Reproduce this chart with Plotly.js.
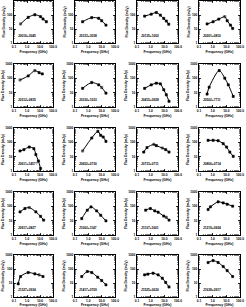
<!DOCTYPE html>
<html><head><meta charset="utf-8">
<script src="https://cdn.plot.ly/plotly-3.0.1.min.js"></script>
<style>html,body{margin:0;padding:0;background:#fff}#c{width:246px;height:307px}</style>
</head><body><div id="c"></div>
<script>
// Source names (one per panel, row by row)
const names = ["J0010+3045","J0123+3038","J0135+1002","J0201+0810",
               "J0312+0835","J0330+1033","J0415+0928","J0502+7711",
               "J0611+1457?","J0652+0730","J0733+0711","J0800+0714",
               "J0917+0827","J1002+1147","J1107+1601","J1219+0924",
               "J1327+0934","J1417+0709","J1525+0630","J1638+0917"];
// Frequencies (GHz) per panel
const freq = [
 [0.32,1.24,4.0,11,17,31],
 [0.37,1.8,6,10,21],
 [0.36,1.1,2.6,5.1,9,14,21],
 [0.39,1.07,2.8,7.7,11.5,20,29],
 [0.29,1.24,4,8.5,15],
 [0.37,1.8,6,10,21],
 [0.36,1.1,2.6,5.1,9,14,22],
 [0.39,0.55,3,7.7,14,32],
 [0.29,0.58,1.5,3.4,4.8,7.6,11],
 [0.37,1.8,5.2,8.4,13,21],
 [0.31,0.54,1.7,2.6,7.1,12.5,22],
 [0.46,1.07,2.5,5.9,10.3,18,32],
 [0.29,0.69,1.5,4.8,11,19],
 [0.32,0.84,1.6,4.2,8.4,21],
 [0.43,0.95,2,3.5,9,14,22],
 [0.46,0.69,2.5,5.9,11.5,29],
 [0.21,0.32,1.24,4,8.5,17],
 [0.32,0.84,1.8,5,10,21],
 [0.36,0.62,1.5,3.5,7.1,12.5,22],
 [0.46,1.07,2.5,5.9,11.5,29]
];
// Flux densities (mJy) per panel
const flux = [
 [23,68,104,76,52,33],
 [33,65,58,39,19],
 [83,115,150,98,57,37,22],
 [23,33,51,76,39,19,11],
 [77,147,346,250,204],
 [20,51,35,23,9.3],
 [20,35,46,41,16,7.1,2.5],
 [8,24,350,103,35,5.5],
 [25,31,47,36,14,5,1.5],
 [25,200,580,310,235,117],
 [21,43,72,59,40,31,21],
 [138,138,130,81,47,21,10.5],
 [41,70,82,41,20,11],
 [14,54,91,48,24,9.7],
 [54,70,48,39,21,17,11],
 [60,92,205,173,141,103],
 [8.7,29,56,45,38,29],
 [29,66,56,26,15,7.4],
 [38,43,50,38,22,11,5.2],
 [290,400,290,150,77,29]
];
// Open-square points (index) per panel
const openPts = [[0],[],[],[3],[0,2],[3],[],[],[],[0],[2,4],[],[2],[],[5],[],[4],[],[],[]];
const xTickVals = [0.1,1,10,100];
const xTickText = ["0.1","1.0","10.0","100.0"];
const yTickVals = [1,10,100,1000];
const yTickText = ["1","10","100","1000"];

const colsPx = [[14,53],[75,115],[137,178],[199,240]];
const rowsPx = [[1,43],[64,107],[128,171],[192,235],[255,297]];
const W=246,H=307;
const traces=[], annotations=[];
const layout = {width:W,height:H,margin:{l:0,r:0,t:0,b:0},showlegend:false,
  paper_bgcolor:'#fff',plot_bgcolor:'#fff',
  font:{family:'Liberation Sans, Arial, sans-serif',size:3,color:'#000'},annotations};
const fnt = {family:'Liberation Sans, Arial, sans-serif',size:3.2,color:'#000',weight:'bold'};
for(let i=0;i<20;i++){
  const r=Math.floor(i/4), c=i%4;
  const n = i===0?'':String(i+1);
  const xa='xaxis'+n, ya='yaxis'+n;
  const common = {type:'log',showgrid:false,zeroline:false,showline:true,linecolor:'#000',linewidth:1,
    mirror:'allticks',ticks:'inside',ticklen:2,tickwidth:0.8,tickcolor:'#000',tickfont:fnt,
    minor:{ticks:'inside',ticklen:1,tickwidth:0.5,tickcolor:'#000',dtick:'D1'},fixedrange:true};
  layout[xa] = Object.assign({},common,{domain:[colsPx[c][0]/W,colsPx[c][1]/W],range:[-1,2],
    tickvals:xTickVals,ticktext:xTickText,anchor:'y'+n,
    title:{text:'Frequency (GHz)',font:Object.assign({},fnt,{size:3.5}),standoff:2}});
  layout[ya] = Object.assign({},common,{domain:[1-rowsPx[r][1]/H,1-rowsPx[r][0]/H],range:[0,3],
    tickvals:yTickVals,ticktext:yTickText,anchor:'x'+n,
    title:{text:'Flux Density (mJy)',font:Object.assign({},fnt,{size:3.5}),standoff:1}});
  const sym = freq[i].map((_,k)=>openPts[i].includes(k)?'square-open':'square');
  traces.push({x:freq[i],y:flux[i],xaxis:'x'+n,yaxis:'y'+n,type:'scatter',mode:'lines+markers',
    line:{color:'#000',width:1,shape:'spline',smoothing:0.8},
    marker:{symbol:sym,size:2.2,color:'#000',line:{width:0.5,color:'#000'}},
    error_y:{type:'percent',value:10,color:'#000',thickness:0.5,width:0.6},
    cliponaxis:true,hoverinfo:'skip'});
  annotations.push({text:names[i],xref:'x'+n+' domain',yref:'y'+n+' domain',x:0.06,y:0.06,
    xanchor:'left',yanchor:'bottom',showarrow:false,font:fnt});
}
Plotly.newPlot('c',traces,layout,{staticPlot:true,displayModeBar:false});
</script></body></html>
